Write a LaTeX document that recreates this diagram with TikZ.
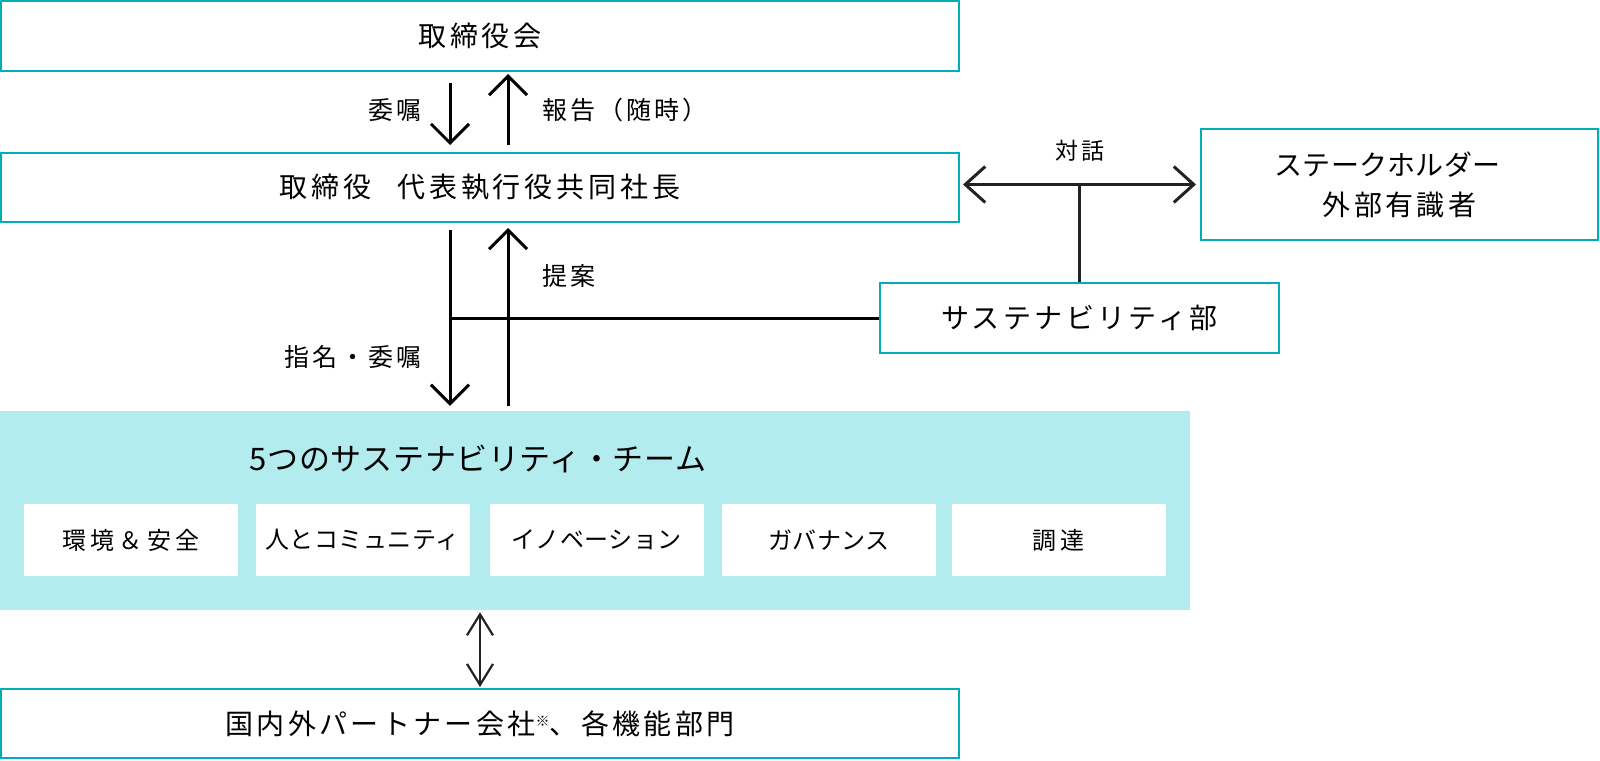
\documentclass[tikz,border=0pt]{standalone}
\usepackage{fontspec}
\setmainfont{Noto Sans CJK JP}[LetterSpace=12]
\usetikzlibrary{arrows.meta,calc}
\definecolor{teal}{RGB}{0,174,186}
\definecolor{band}{RGB}{179,236,238}
\definecolor{dark}{RGB}{34,34,34}
\newcommand{\ls}[1]{\addfontfeatures{LetterSpace=#1}}
\tikzset{
  box/.style={draw=teal, line width=2pt, fill=white, inner sep=0pt, align=center, font=\fontsize{28}{40}\selectfont},
  teambox/.style={fill=white, inner sep=0pt, minimum width=214pt, minimum height=72pt, font=\fontsize{24}{28}\selectfont\ls{2}},
  lbl/.style={inner sep=0pt, font=\fontsize{25}{28}\selectfont},
  arr/.style={line width=3pt, -{Straight Barb[length=19pt,width=38pt,line width=3pt]}},
  darr/.style={line width=3pt, dark, {Straight Barb[length=20pt,width=36pt,line width=3pt]}-{Straight Barb[length=20pt,width=36pt,line width=3pt]}},
  barr/.style={line width=2.2pt, dark, {Straight Barb[length=21pt,width=26pt,line width=2.2pt]}-{Straight Barb[length=21pt,width=26pt,line width=2.2pt]}},
}
\begin{document}
\begin{tikzpicture}[x=1pt,y=-1pt]
\useasboundingbox (0,0) rectangle (1600,760);
% boxes
\node[box, minimum width=958pt, minimum height=70pt] (b1) at (480,36) {取締役会};
\node[box, minimum width=958pt, minimum height=69pt] (b2) at (480,187.5) {\ls{14}取締役\hspace{26pt}代表執行役共同社長};
\node[box, minimum width=399pt, minimum height=70pt] (sus) at (1079.5,318) {サステナビリティ部};
\node[box, minimum width=397pt, minimum height=111pt] (stk) at (1399.5,184.5) {{\ls{1}ステークホルダー}\kern24pt\\外部有識者};
\node[fill=band, inner sep=0pt, minimum width=1190pt, minimum height=199pt] (band) at (595,510.5) {};
\node[inner sep=0pt, font=\fontsize{31}{34}\selectfont\ls{2}] (ttl) at (478,459) {5つのサステナビリティ・チーム};
\node[teambox] (t1) at (131,540) {\ls{18}環境＆安全};
\node[teambox] (t2) at (362.5,540) {人とコミュニティ};
\node[teambox] (t3) at (596.5,540) {イノベーション};
\node[teambox] (t4) at (829,540) {ガバナンス};
\node[teambox] (t5) at (1058.5,540) {\ls{18}調達};
\node[box, minimum width=958pt, minimum height=69pt] (bot) at (480,723.5) {国内外パートナー会社{\fontsize{14}{14}\selectfont\raisebox{8pt}{※}}、各機能部門};
% arrows board <-> president
\draw[arr] ([xshift=-30pt,yshift=-11pt]b1.south) -- ([xshift=-30pt,yshift=7pt]b2.north);
\draw[arr] ([xshift=28pt,yshift=7pt]b2.north) -- ([xshift=28pt,yshift=-2pt]b1.south);
\node[lbl, anchor=east] (l1) at (422,110) {委嘱};
\node[lbl, anchor=west] (l2) at (542,110) {報告（随時）};
% arrows president <-> teams
\coordinate (j) at ([xshift=-30pt,yshift=-7pt]b2.south);
\draw[arr] (j) -- ([xshift=-145pt,yshift=5pt]band.north);
\draw[arr] ([xshift=-87pt,yshift=5pt]band.north) -- ([xshift=28pt,yshift=-5pt]b2.south);
\node[lbl, anchor=west] (l3) at (542,276) {提案};
\node[lbl, anchor=east] (l4) at (422,357) {指名・委嘱};
\draw[line width=3pt] (sus.west) -- (sus.west -| j);
% dialogue
\draw[darr] ([xshift=3pt]b2.east |- stk.west) -- ([xshift=-4pt]stk.west);
\draw[line width=3pt, dark] (sus.north) -- (sus.north |- stk.west);
\node[lbl, font=\fontsize{23}{26}\selectfont] (l5) at (1080,151) {対話};
% bottom
\draw[barr] ([yshift=-2pt]bot.north |- band.south) -- ([yshift=1pt]bot.north);
\end{tikzpicture}
\end{document}
